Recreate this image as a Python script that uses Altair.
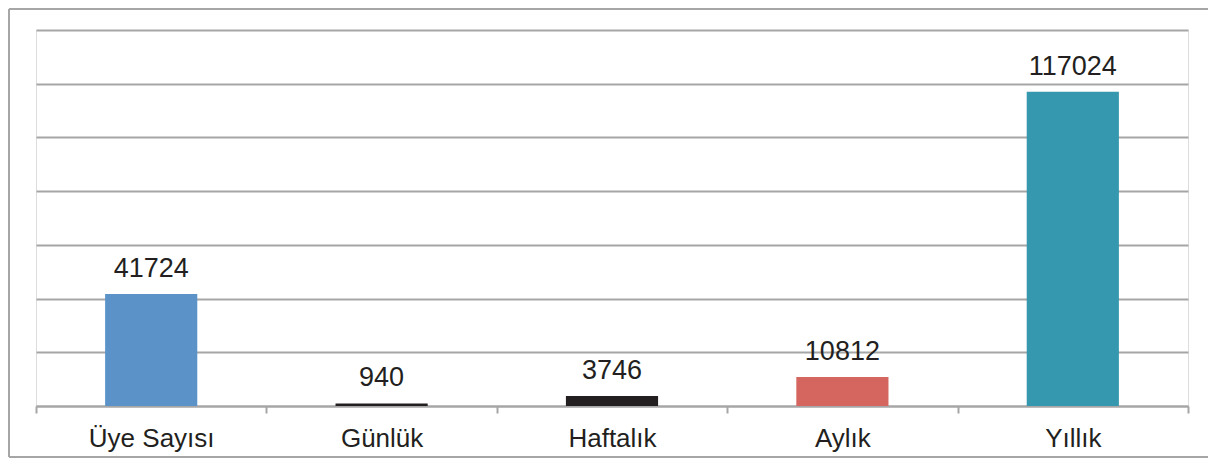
import altair as alt
import pandas as pd

categories = ["Üye Sayısı", "Günlük", "Haftalık", "Aylık", "Yıllık"]
values = [41724, 940, 3746, 10812, 117024]
bar_colors = ["#5B93C9", "#231F20", "#231F20", "#D4665F", "#3598AE"]

df = pd.DataFrame({"kategori": categories, "deger": values})

FONT = "Liberation Sans"
GRID = "#A6A6A6"
TEXT = "#231F20"

x_enc = alt.X(
    "kategori:N",
    sort=None,
    scale=alt.Scale(paddingInner=0, paddingOuter=0),
    axis=alt.Axis(
        title=None,
        labelAngle=0,
        labelFont=FONT,
        labelFontSize=26,
        labelColor=TEXT,
        labelBaseline="alphabetic",
        labelPadding=33,
        tickBand="extent",
        tickSize=7,
        tickColor=GRID,
        tickWidth=2,
        domainColor=GRID,
        domainWidth=2,
        grid=False,
    ),
)
y_enc = alt.Y(
    "deger:Q",
    scale=alt.Scale(domain=[0, 140000], nice=False),
    axis=alt.Axis(
        title=None,
        labels=False,
        ticks=False,
        domain=False,
        values=list(range(0, 140001, 20000)),
        grid=True,
        gridColor=GRID,
        gridWidth=2,
    ),
)

base = alt.Chart(df)

bars = base.mark_bar(width=alt.RelativeBandSize(0.4)).encode(
    x=x_enc,
    y=y_enc,
    color=alt.Color(
        "kategori:N",
        sort=None,
        scale=alt.Scale(domain=categories, range=bar_colors),
        legend=None,
    ),
)

labels = base.mark_text(
    font=FONT, fontSize=27, color=TEXT, baseline="alphabetic", dy=-17
).encode(
    x=alt.X("kategori:N", sort=None),
    y=alt.Y("deger:Q"),
    text=alt.Text("deger:Q", format="d"),
)

one = pd.DataFrame({"f": [0]})
frame_top = alt.Chart(one).mark_rule(stroke="#A6A6A6", strokeWidth=2).encode(
    x=alt.value(-27), x2=alt.value(1220), y=alt.value(-21)
)
frame_left = alt.Chart(one).mark_rule(stroke="#A6A6A6", strokeWidth=2).encode(
    x=alt.value(-27), y=alt.value(-21), y2=alt.value(427)
)
frame_bottom = alt.Chart(one).mark_rule(stroke="#A6A6A6", strokeWidth=2).encode(
    x=alt.value(-27), x2=alt.value(1220), y=alt.value(427)
)

chart = (
    alt.layer(bars, labels, frame_top, frame_left, frame_bottom)
    .properties(
        width=1152,
        height=376,
        autosize=alt.AutoSizeParams(type="none"),
        padding={"left": 28, "top": 22, "right": 20, "bottom": 52},
    )
    .configure_view(stroke=None)
    .configure(background="white")
)

chart.save("out.html", embed_options={"renderer": "svg", "actions": False})
